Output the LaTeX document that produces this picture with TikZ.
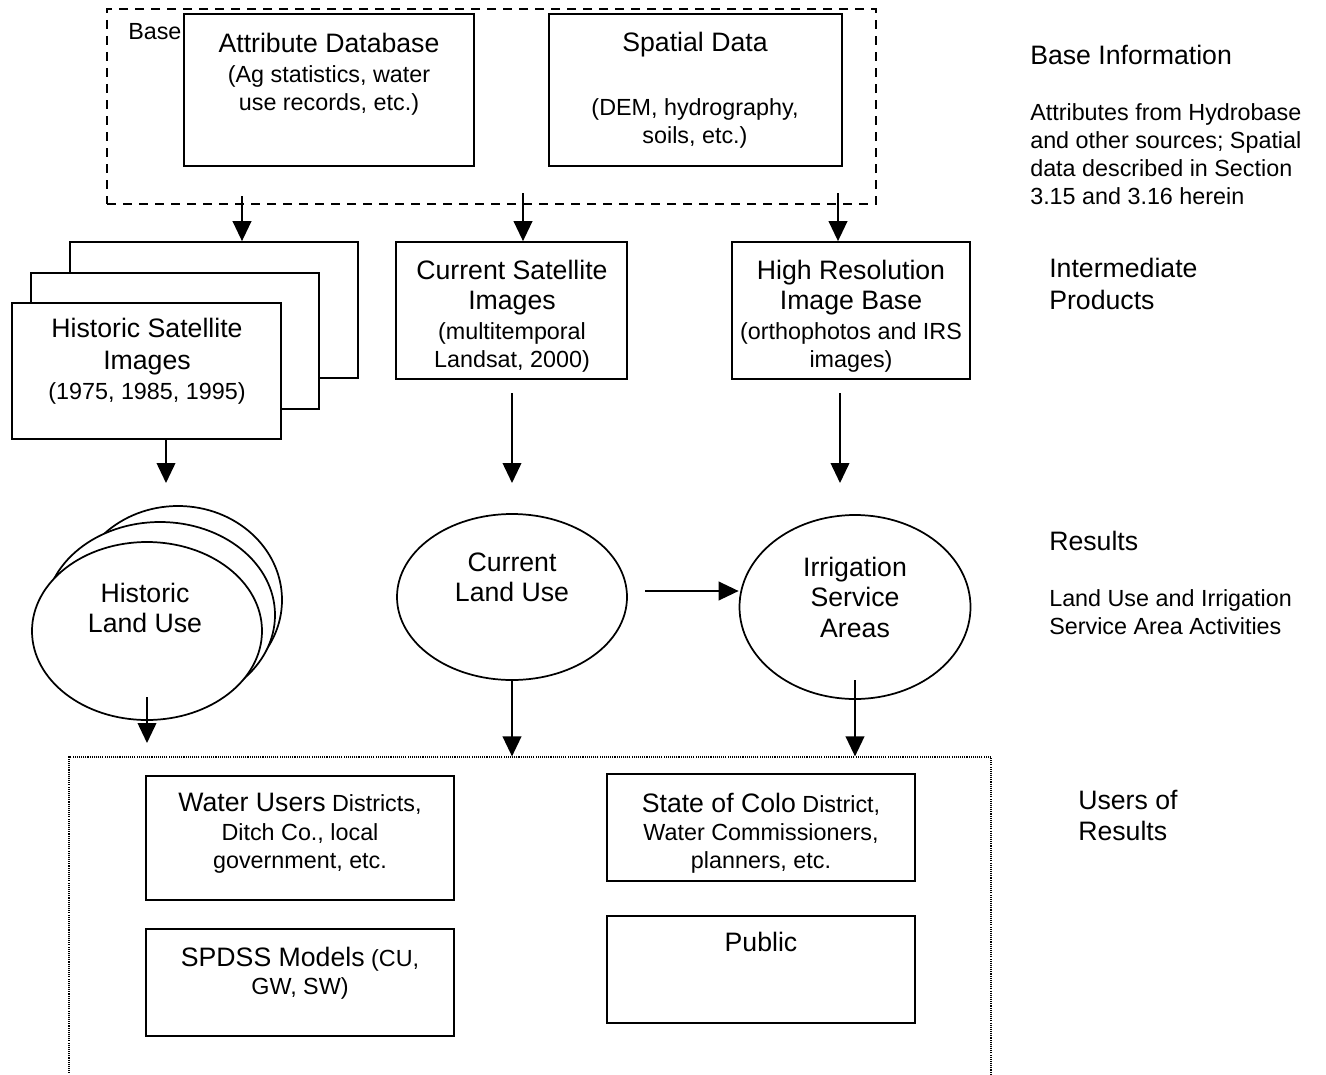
\documentclass[tikz,border=0pt]{standalone}
\usepackage{fontspec}
\setmainfont{Liberation Sans}
\usetikzlibrary{arrows.meta,shapes.geometric,fit}
\newcommand\Lf{\fontsize{20}{22.5}\selectfont}
\newcommand\Sf{\fontsize{17.5}{21}\selectfont}
\tikzset{
  box/.style={draw, line width=1.3pt, inner sep=0pt, fill=white},
  oval/.style={draw, ellipse, line width=1.3pt, inner sep=0pt, fill=white},
  txt/.style={inner sep=0pt, align=center, font=\Sf, anchor=north},
  ltxt/.style={inner sep=0pt, align=left, font=\Sf, anchor=north west},
  arr/.style={line width=1.3pt, -{Triangle[length=15pt,width=14pt]}},
}
\begin{document}
\begin{tikzpicture}[x=0.75pt,y=-0.75pt]
\useasboundingbox (0,0) rectangle (1326,1074);

% ---------- Base information ----------
\node[draw, dash pattern=on 7pt off 5pt, line width=1.1pt, inner sep=0pt,
      fit={(107,9)(876,204)}] (basefr) {};
\node[inner sep=0pt, font=\Sf, anchor=west] (basetxt) at (128,32) {Base};
\node[box, fit={(184,14)(474,166)}] (attr) {};
\node[txt] (attrT) at (329,33) {{\Lf Attribute Database}\\[1.5pt](Ag statistics, water\\use records, etc.)};
\node[box, fit={(549,14)(842,166)}] (spat) {};
\node[txt, font=\Lf] (spatT) at (695,32) {Spatial Data};
\node[txt] (spatS) at (695,98) {(DEM, hydrography,\\soils, etc.)};

% ---------- Intermediate products ----------
\node[box, fit={(70,242)(358,378)}] (hback) {};
\node[box, fit={(31,273)(319,409)}] (hmid) {};
\node[box, fit={(12,303)(281,439)}] (hfront) {};
\node[txt] (hfrontT) at (147,318) {{\Lf Historic Satellite}\\[3pt]{\Lf Images}\\[1.5pt](1975, 1985, 1995)};
\node[box, fit={(396,242)(627,379)}] (cur) {};
\node[txt] (curT) at (512,260) {{\Lf Current Satellite}\\[1.5pt]{\Lf Images}\\[1.5pt](multitemporal\\Landsat, 2000)};
\node[box, fit={(732,242)(970,379)}] (hres) {};
\node[txt] (hresT) at (851,260) {{\Lf High Resolution}\\[1.5pt]{\Lf Image Base}\\[1.5pt](orthophotos and IRS\\images)};

% ---------- Results ----------
\node[oval, minimum width=208*0.75pt, minimum height=188*0.75pt] (lback) at (178,600) {};
\node[oval, minimum width=230*0.75pt, minimum height=186*0.75pt] (lmid) at (160,615) {};
\node[oval, minimum width=230*0.75pt, minimum height=178*0.75pt] (lfront) at (147,631) {};
\node[txt] (lfrontT) at (145,583) {{\Lf Historic}\\[1.5pt]{\Lf Land Use}};
\node[oval, minimum width=230*0.75pt, minimum height=166*0.75pt] (clu) at (512,597) {};
\node[txt] (cluT) at (512,553) {{\Lf Current}\\[1.5pt]{\Lf Land Use}};
\node[oval, minimum width=231*0.75pt, minimum height=184*0.75pt] (irr) at (855,607) {};
\node[txt] (irrT) at (855,557) {{\Lf Irrigation}\\[1.5pt]{\Lf Service}\\[2pt]{\Lf Areas}};

% ---------- Users of results ----------
\node[draw, dash pattern=on 0.8pt off 0.8pt, line width=0.9pt, inner sep=0pt,
      fit={(69,757)(991,1100)}] (users) {};
\node[box, fit={(146,776)(454,900)}] (wu) {};
\node[txt] (wuT) at (300,793) {{\Lf Water Users} Districts,\\[0.75pt]Ditch Co., local\\government, etc.};
\node[box, fit={(607,774)(915,881)}] (sc) {};
\node[txt] (scT) at (761,793) {{\Lf State of Colo} District,\\Water Commissioners,\\planners, etc.};
\node[box, fit={(146,929)(454,1036)}] (sp) {};
\node[txt] (spT) at (300,947) {{\Lf SPDSS Models} (CU,\\GW, SW)};
\node[box, fit={(607,916)(915,1023)}] (pub) {};
\node[txt, font=\Lf] (pubT) at (761,932) {Public};

% ---------- Right column ----------
\node[ltxt, font=\Lf] (r1) at (1030,45) {Base Information};
\node[ltxt] (r2) at (1030,103) {Attributes from Hydrobase\\and other sources; Spatial\\data described in Section\\3.15 and 3.16 herein};
\node[ltxt, font=\Lf] (r3) at (1049,258) {Intermediate\\[1.5pt]Products};
\node[ltxt, font=\Lf] (r4) at (1049,531) {Results};
\node[ltxt] (r5) at (1049,589) {Land Use and Irrigation\\Service Area Activities};
\node[ltxt, font=\Lf] (r6) at (1078,790) {Users of\\[1pt]Results};

% ---------- Connectors ----------
\coordinate (a1) at (242,196);
\coordinate (a2) at (523,193);
\coordinate (a3) at (838,193);
\draw[arr] (a1) -- (a1 |- hback.north);
\draw[arr] (a2) -- (a2 |- cur.north);
\draw[arr] (a3) -- (a3 |- hres.north);

\coordinate (b1) at (166,483);
\coordinate (b2s) at (512,393);
\coordinate (b2) at (512,483);
\coordinate (b3s) at (840,393);
\coordinate (b3) at (840,483);
\draw[arr] (b1 |- hfront.south) -- (b1);
\draw[arr] (b2s) -- (b2);
\draw[arr] (b3s) -- (b3);

\coordinate (hs) at (645,591);
\draw[arr] (hs) -- (irr.west |- hs);

\coordinate (c1s) at (147,697);
\coordinate (c1) at (147,743);
\coordinate (c2s) at (512,680);
\coordinate (c3s) at (855,680);
\draw[arr] (c1s) -- (c1);
\draw[arr] (c2s) -- (c2s |- users.north);
\draw[arr] (c3s) -- (c3s |- users.north);
\end{tikzpicture}
\end{document}
